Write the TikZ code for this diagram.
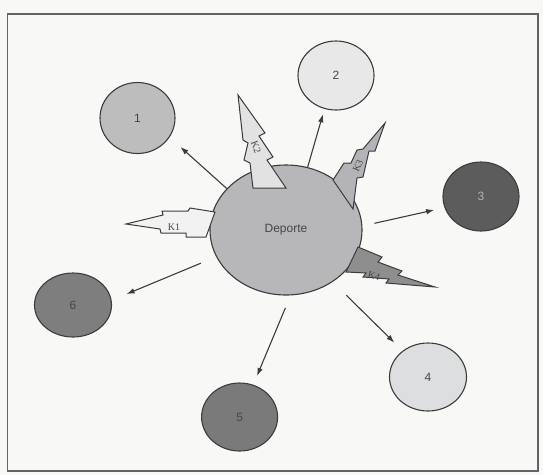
\documentclass[tikz,border=0pt]{standalone}
\usepackage{fontspec}
\setmainfont{Liberation Sans}
\newfontfamily\kfont{Liberation Serif}
\usetikzlibrary{shapes.geometric,arrows.meta}
\definecolor{bg}{RGB}{248,248,246}
\definecolor{edge}{RGB}{60,60,60}
\definecolor{txt}{RGB}{70,70,70}
\definecolor{cdep}{RGB}{183,183,186}
\definecolor{cone}{RGB}{189,189,189}
\definecolor{ctwo}{RGB}{232,232,232}
\definecolor{cthree}{RGB}{92,92,92}
\definecolor{cfour}{RGB}{220,222,224}
\definecolor{cfive}{RGB}{122,122,122}
\definecolor{csix}{RGB}{126,126,126}
\definecolor{kone}{RGB}{242,242,242}
\definecolor{ktwo}{RGB}{226,226,226}
\definecolor{kthree}{RGB}{180,180,184}
\definecolor{kfour}{RGB}{142,142,142}
\begin{document}
\begin{tikzpicture}[x=1pt,y=-1pt,
  ball/.style={ellipse, draw=edge, line width=1.1pt, inner sep=0pt,
    font=\fontsize{12}{12}\selectfont, text=txt},
  arr/.style={draw=edge, line width=1.1pt, -{Latex[length=8pt,width=5.5pt]}},
  bolt/.style={draw=edge, line width=1pt, line join=miter},
  klab/.style={font=\kfont\fontsize{10}{10}\selectfont, text=txt, inner sep=0pt},
  frame/.style={draw=edge!80, line width=1.5pt}]
\fill[bg] (0,0) rectangle (543,475);
\useasboundingbox (0,0) rectangle (543,475);
\draw[frame] (7.5,14) rectangle (538,471);

\node[ball, minimum width=152pt, minimum height=130pt, fill=cdep] (dep) at (286,230) {Deporte};
\node[ball, minimum width=75pt, minimum height=71pt, fill=cone] (c1) at (137.5,118) {1};
\node[ball, minimum width=76pt, minimum height=69pt, fill=ctwo] (c2) at (336,75.5) {2};
\node[ball, minimum width=76pt, minimum height=69pt, fill=cthree, text=gray!60] (c3) at (481,196.5) {3};
\node[ball, minimum width=77pt, minimum height=68pt, fill=cfour] (c4) at (428,377) {4};
\node[ball, minimum width=76pt, minimum height=68pt, fill=cfive] (c5) at (239.6,417) {5};
\node[ball, minimum width=77pt, minimum height=64pt, fill=csix] (c6) at (73,305) {6};

% lightning bolts
\draw[bolt, fill=kone] (126,224) -- (163,215) -- (162,211) -- (188,211) -- (190,208)
  -- (215,212) -- (206,237) -- (186,237) -- (186,233) -- (161,233) -- (160,229) -- cycle;
\draw[bolt, fill=ktwo] (238,95) -- (265,133) -- (259,136) -- (273,157) -- (267,160)
  -- (286,188) -- (253,188) -- (250,163) -- (244,160) -- (248,143) -- (243,140) -- cycle;
\draw[bolt, fill=kthree] (385,123) -- (375,151) -- (369,151) -- (363,177) -- (357,178)
  -- (353,209) -- (333,180) -- (344,163) -- (351,163) -- (357,150) -- (363,149) -- cycle;
\draw[bolt, fill=kfour] (358,247) -- (382,257) -- (378,262) -- (402,271) -- (398,275)
  -- (435,287) -- (386,283) -- (389,279) -- (363,277) -- (366,273) -- (346,272) -- cycle;

\node[klab] (k1) at (174,227) {K1};
\node[klab, rotate=-70] (k2) at (256,147) {K2};
\node[klab, rotate=65] (k3) at (358,166) {K3};
\node[klab, rotate=-15] (k4) at (374,276) {K4};

% arrows
\draw[arr, shorten >=14.5pt] (dep.145) -- (c1.-31);
\draw[arr, shorten >=5.6pt] (dep.71) -- (c2.-109);
\draw[arr, shorten <=12.4pt, shorten >=10.5pt] (dep.3) -- (c3.-163.5);
\draw[arr, shorten <=19pt, shorten >=11.6pt] (dep.-48) -- (c4.134);
\draw[arr, shorten <=13.5pt, shorten >=9.5pt] (dep.-86.4) -- (c5.67.8);
\draw[arr, shorten <=16.6pt, shorten >=16.2pt] (dep.-159.4) -- (c6.7.5);
\end{tikzpicture}
\end{document}
